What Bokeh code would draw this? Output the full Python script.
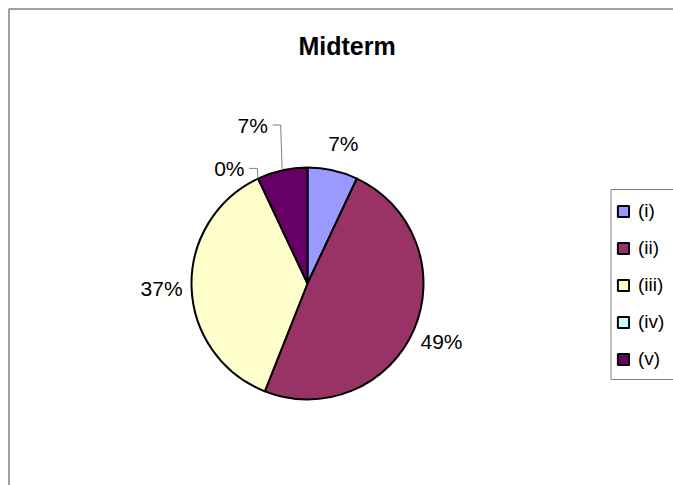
import math
from bokeh.plotting import figure
from bokeh.models import Range1d, Legend, LegendItem, ColumnDataSource
from bokeh.core.properties import value
from bokeh.embed import file_html
from bokeh.resources import INLINE

# ---- data ----
title_text = "Midterm"
categories = ["(i)", "(ii)", "(iii)", "(iv)", "(v)"]
percents = [7, 49, 37, 0, 7]

# ---- style / layout ----
colors = ["#9999FF", "#993366", "#FFFFCC", "#CCFFFF", "#660066"]
W, H = 673, 485
cx, cy, R = 307, 202, 116
label_r = 146
# nudges for crowded labels (pixels); nudged labels get leader lines
nudges = [(4, -2), (0, 0), (0, 0), (-16, -17), (-23, 16)]
FONT_NAME = "Liberation Sans"
FONT = value(FONT_NAME)

p = figure(width=W, height=H, output_backend="svg", toolbar_location=None,
           x_range=Range1d(0, W), y_range=Range1d(0, H), min_border=0,
           x_axis_type=None, y_axis_type=None)
p.grid.visible = False
p.outline_line_color = None
p.background_fill_color = "white"
p.border_fill_color = "white"

total = sum(percents)
cum = 0.0
starts, ends, mids = [], [], []
for v in percents:
    a0 = math.pi / 2 - 2 * math.pi * cum / total
    cum += v
    a1 = math.pi / 2 - 2 * math.pi * cum / total
    starts.append(a0)
    ends.append(a1)
    mids.append((a0 + a1) / 2)

items = []
for i, cat in enumerate(categories):
    src = ColumnDataSource(dict(x=[cx], y=[cy], s=[starts[i]], e=[ends[i]],
                                r=[R if percents[i] > 0 else 0]))
    r = p.wedge(x="x", y="y", radius="r", start_angle="s", end_angle="e",
                direction="clock", source=src, fill_color=colors[i],
                line_color="black", line_width=2)
    items.append(LegendItem(label=cat, renderers=[r]))

# percentage labels
lx, ly, lt = [], [], []
for i, v in enumerate(percents):
    dx, dy = nudges[i]
    x = cx + label_r * math.cos(mids[i]) + dx
    y = cy + label_r * math.sin(mids[i]) + dy
    lx.append(x); ly.append(y); lt.append(f"{v}%")
    if abs(dx) > 10 or abs(dy) > 10:
        ex = cx + R * math.cos(mids[i])
        ey = cy + R * math.sin(mids[i])
        p.line([ex, x + 28, x + 20], [ey, y, y], line_color="#808080", line_width=1)

p.text(x=lx, y=ly, text=lt, text_font=FONT, text_font_size="21px",
       text_align="center", text_baseline="middle", text_color="black")

# title
p.text(x=[346.5], y=[439.5], text=[title_text], text_font=FONT, text_font_size="25px",
       text_font_style="bold", text_align="center", text_baseline="middle",
       text_color="black")

# chart area border (top & left visible, rest runs off the page)
p.line([8.5, 8.5, W + 5], [-5, 476.5, 476.5], line_color="#a0a0a0", line_width=2)

# legend
leg_left, leg_top, leg_bottom = 610, 485 - 189, 485 - 379
legend = Legend(items=items, location=(leg_left + 6, 112), orientation="vertical",
                glyph_width=14, glyph_height=14, label_height=28, label_width=40,
                spacing=9, padding=8, label_standoff=8,
                label_text_font=FONT_NAME, label_text_font_size="19px",
                label_text_color="black",
                border_line_color=None,
                background_fill_alpha=0.0)
p.add_layout(legend, "center")
p.line([W + 5, leg_left + 0.5, leg_left + 0.5, W + 5],
       [leg_top, leg_top, leg_bottom, leg_bottom],
       line_color="#808080", line_width=1)

open("out.html", "w").write(file_html(p, INLINE))
